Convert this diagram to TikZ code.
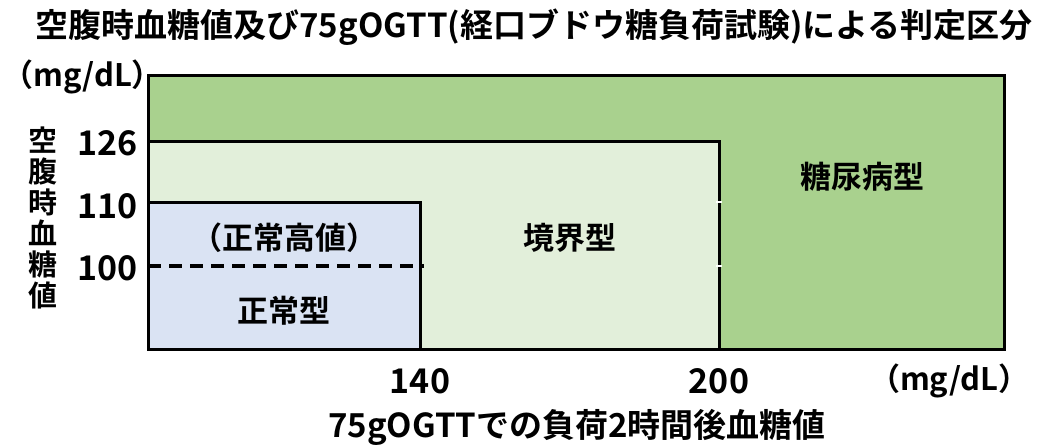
\documentclass[tikz,border=0pt]{standalone}
\usepackage{fontspec}
\setmainfont{Noto Sans CJK JP}[BoldFont={* Bold}]
\definecolor{dm}{HTML}{A9D18E}
\definecolor{bd}{HTML}{E2EFDA}
\definecolor{nm}{HTML}{DAE3F3}
\tikzset{
  lbl/.style={inner sep=0pt, font=\bfseries\fontsize{31}{31}\selectfont},
  num/.style={inner sep=0pt, font=\bfseries\fontsize{34}{31}\selectfont},
  ttl/.style={inner sep=0pt, font=\bfseries\fontsize{33}{31}\selectfont},
  frame/.style={line width=3pt, black},
}
\begin{document}
\begin{tikzpicture}[x=1pt,y=-1pt]
\useasboundingbox (0,0) rectangle (1037,447);
% regions
\fill[dm] (148,75) rectangle (1004,349);
\fill[bd] (148,141) rectangle (719,349);
\fill[nm] (148,202) rectangle (420,349);
\draw[frame] (148,141) -- (719,141) -- (719,349);
\draw[frame] (148,202) -- (420,202) -- (420,349);
\draw[line width=3.2pt, dash pattern=on 13pt off 8pt] (148,266) -- (420,266);
\draw[line width=3.2pt] (420,266) -- (424,266);
% small white notches on the 200 line
\draw[white, line width=1.5pt] (716,202) -- (722,202);
\draw[white, line width=1.5pt] (716,266) -- (722,266);
\draw[frame] (148,75) rectangle (1004,349);
% texts
\node[ttl] (title) at (534,27) {空腹時血糖値及び75gOGTT(経口ブドウ糖負荷試験)による判定区分};
\node[lbl, anchor=west] (yunit) at (2,77) {（mg/dL）};
\node[lbl, align=center, font=\bfseries\fontsize{29}{31}\selectfont] (ylab) at (43,218) {空\\腹\\時\\血\\糖\\値};
\node[num, anchor=east] (y126) at (138,143) {126};
\node[num, anchor=east] (y110) at (138,206) {110};
\node[num, anchor=east] (y100) at (138,268) {100};
\node[lbl] (hi) at (284,238) {（正常高値）};
\node[lbl] (nt) at (284,311) {正常型};
\node[lbl] (bt) at (570,238) {境界型};
\node[lbl] (dt) at (862,177) {糖尿病型};
\node[num] (x140) at (420,381) {140};
\node[num] (x200) at (719,381) {200};
\node[lbl, anchor=east] (xunit) at (1030,381) {（mg/dL）};
\node[ttl] (xlab) at (577,427) {75gOGTTでの負荷2時間後血糖値};
\end{tikzpicture}
\end{document}
